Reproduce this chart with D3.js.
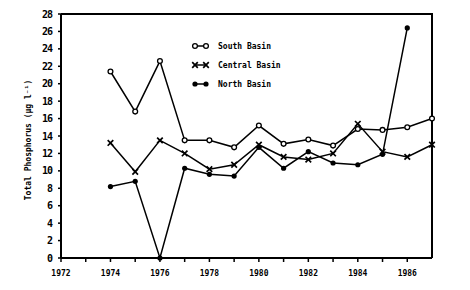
<!DOCTYPE html>
<html>
<head>
<meta charset="utf-8">
<script src="https://cdn.jsdelivr.net/npm/d3@7"></script>
<style>
  body { margin: 0; background: #fff; }
  svg { display: block; }
  text { font-family: "DejaVu Sans Mono", monospace; font-weight: bold; fill: #000; }
</style>
</head>
<body>
<div id="chart"></div>
<script>
// values (µg/l)
const years = [1974, 1975, 1976, 1977, 1978, 1979, 1980, 1981, 1982, 1983, 1984, 1985, 1986, 1987];
const south = [21.4, 16.8, 22.6, 13.5, 13.5, 12.7, 15.2, 13.1, 13.6, 12.9, 14.8, 14.7, 15.0, 16.0];
const central = [13.2, 9.9, 13.5, 12.0, 10.2, 10.7, 13.0, 11.6, 11.3, 12.0, 15.4, 12.2, 11.6, 13.0];
const north = [8.2, 8.8, 0, 10.3, 9.6, 9.4, 12.7, 10.3, 12.2, 10.9, 10.7, 11.9, 26.4];
const xTicks = [1972, 1974, 1976, 1978, 1980, 1982, 1984, 1986];
const xMinor = [1973, 1975, 1977, 1979, 1981, 1983, 1985];
const yTicks = d3.range(0, 29, 2);
const seriesNames = ['South Basin', 'Central Basin', 'North Basin'];

const width = 470, height = 290;
const svg = d3.select('#chart').append('svg').attr('width', width).attr('height', height);

const x = d3.scaleLinear().domain([1972, 1987]).range([61, 432]);
const y = d3.scaleLinear().domain([0, 28]).range([258, 14]);

// frame
svg.append('path')
  .attr('d', `M${x(1972)},${y(28)}H${x(1987)}V${y(0)}`)
  .attr('fill', 'none').attr('stroke', '#000').attr('stroke-width', 2);

// x axis
const xAxis = svg.append('g');
xAxis.append('line').attr('x1', x(1972)).attr('x2', x(1987)).attr('y1', y(0)).attr('y2', y(0))
  .attr('stroke', '#000').attr('stroke-width', 2);
xAxis.selectAll('.tk').data(xTicks.concat(xMinor)).enter().append('line')
  .attr('x1', d => x(d)).attr('x2', d => x(d)).attr('y1', y(0)).attr('y2', y(0) + 4)
  .attr('stroke', '#000').attr('stroke-width', 1.5);
xAxis.selectAll('text').data(xTicks).enter().append('text')
  .attr('x', d => x(d)).attr('y', 276).attr('text-anchor', 'middle')
  .attr('font-size', 8).text(d => d);

// y axis
const yAxis = svg.append('g');
yAxis.append('line').attr('x1', x(1972)).attr('x2', x(1972)).attr('y1', y(0)).attr('y2', y(28))
  .attr('stroke', '#000').attr('stroke-width', 2);
yAxis.selectAll('.tk').data(yTicks).enter().append('line')
  .attr('x1', x(1972) - 3).attr('x2', x(1972)).attr('y1', d => y(d)).attr('y2', d => y(d))
  .attr('stroke', '#000').attr('stroke-width', 1.5);
yAxis.selectAll('text').data(yTicks).enter().append('text')
  .attr('x', 52).attr('y', d => y(d) + 3.5).attr('text-anchor', 'end')
  .attr('font-size', 10).attr('letter-spacing', -1).text(d => d);

svg.append('text')
  .attr('transform', 'translate(31,140) rotate(-90)')
  .attr('text-anchor', 'middle').attr('font-size', 8)
  .text('Total Phosphorus (\u00b5g l\u207b\u00b9)');

// markers
function marker(g, kind, cx, cy) {
  if (kind === 0) {
    g.append('circle').attr('cx', cx).attr('cy', cy).attr('r', 2.4)
      .attr('fill', '#fff').attr('stroke', '#000').attr('stroke-width', 1.3);
  } else if (kind === 1) {
    const s = 2.8;
    g.append('path').attr('d', `M${cx - s},${cy - s}L${cx + s},${cy + s}M${cx - s},${cy + s}L${cx + s},${cy - s}`)
      .attr('stroke', '#000').attr('stroke-width', 1.7);
  } else {
    g.append('circle').attr('cx', cx).attr('cy', cy).attr('r', 2.6).attr('fill', '#000');
  }
}

const line = d3.line().x(d => x(d[0])).y(d => y(d[1]));
[south, central, north].forEach((vals, k) => {
  const pts = vals.map((v, i) => [years[i], v]);
  const g = svg.append('g');
  g.append('path').attr('d', line(pts)).attr('fill', 'none')
    .attr('stroke', '#000').attr('stroke-width', 1.5);
  pts.forEach(p => marker(g, k, x(p[0]), y(p[1])));
});

// legend
const leg = svg.append('g');
seriesNames.forEach((name, k) => {
  const ly = 46 + k * 19;
  leg.append('line').attr('x1', 195).attr('x2', 206).attr('y1', ly).attr('y2', ly)
    .attr('stroke', '#000').attr('stroke-width', 1.5);
  marker(leg, k, 195, ly);
  marker(leg, k, 206, ly);
  leg.append('text').attr('x', 218).attr('y', ly + 3).attr('font-size', 8).text(name);
});
</script>
</body>
</html>
